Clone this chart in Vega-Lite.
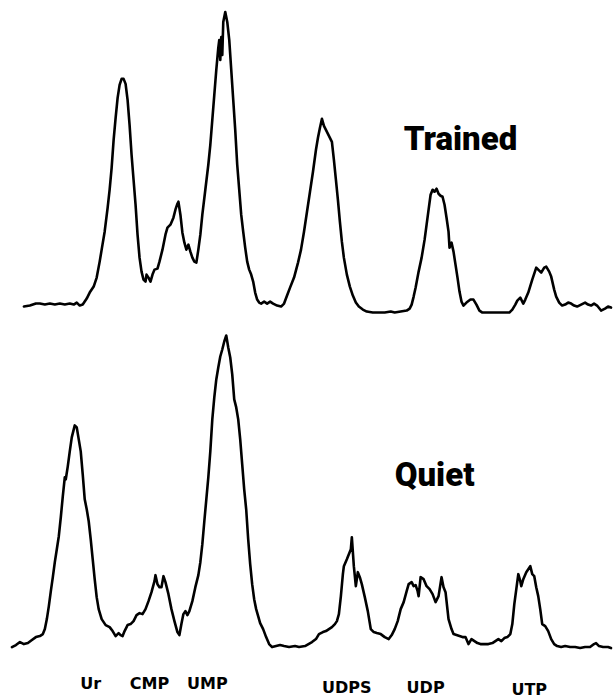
{
  "$schema": "https://vega.github.io/schema/vega-lite/v6.json",
  "width": 613,
  "height": 698,
  "autosize": {"type": "fit", "contains": "padding"},
  "padding": 0,
  "background": "white",
  "config": {"view": {"stroke": null}},
  "datasets": {
    "traces": [
      {"series":"Trained","x":24,"y":307},{"series":"Trained","x":30,"y":306},{"series":"Trained","x":36,"y":304},{"series":"Trained","x":40,"y":304},{"series":"Trained","x":45,"y":305},{"series":"Trained","x":50,"y":304},{"series":"Trained","x":55,"y":305},{"series":"Trained","x":60,"y":304},{"series":"Trained","x":65,"y":305},{"series":"Trained","x":70,"y":304},{"series":"Trained","x":74,"y":305},{"series":"Trained","x":77,"y":303},{"series":"Trained","x":80,"y":306},{"series":"Trained","x":83,"y":305},{"series":"Trained","x":87,"y":299},{"series":"Trained","x":90,"y":293},{"series":"Trained","x":94,"y":287},{"series":"Trained","x":97,"y":278},{"series":"Trained","x":100,"y":262},{"series":"Trained","x":102,"y":250},{"series":"Trained","x":105,"y":232},{"series":"Trained","x":108,"y":208},{"series":"Trained","x":110,"y":190},{"series":"Trained","x":112,"y":168},{"series":"Trained","x":114,"y":140},{"series":"Trained","x":116,"y":118},{"series":"Trained","x":118,"y":98},{"series":"Trained","x":120,"y":85},{"series":"Trained","x":122,"y":79},{"series":"Trained","x":124,"y":79},{"series":"Trained","x":126,"y":84},{"series":"Trained","x":128,"y":100},{"series":"Trained","x":130,"y":125},{"series":"Trained","x":132,"y":155},{"series":"Trained","x":134,"y":180},{"series":"Trained","x":136,"y":205},{"series":"Trained","x":138,"y":235},{"series":"Trained","x":140,"y":258},{"series":"Trained","x":142,"y":272},{"series":"Trained","x":144,"y":280},{"series":"Trained","x":146,"y":282},{"series":"Trained","x":147,"y":275},{"series":"Trained","x":149,"y":278},{"series":"Trained","x":151,"y":282},{"series":"Trained","x":153,"y":275},{"series":"Trained","x":155,"y":270},{"series":"Trained","x":158,"y":269},{"series":"Trained","x":160,"y":262},{"series":"Trained","x":163,"y":250},{"series":"Trained","x":166,"y":235},{"series":"Trained","x":168,"y":228},{"series":"Trained","x":171,"y":225},{"series":"Trained","x":174,"y":218},{"series":"Trained","x":176,"y":210},{"series":"Trained","x":178,"y":204},{"series":"Trained","x":179,"y":202},{"series":"Trained","x":181,"y":215},{"series":"Trained","x":183,"y":233},{"series":"Trained","x":185,"y":243},{"series":"Trained","x":187,"y":250},{"series":"Trained","x":189,"y":245},{"series":"Trained","x":191,"y":252},{"series":"Trained","x":193,"y":258},{"series":"Trained","x":195,"y":262},{"series":"Trained","x":197,"y":263},{"series":"Trained","x":199,"y":250},{"series":"Trained","x":201,"y":235},{"series":"Trained","x":203,"y":215},{"series":"Trained","x":206,"y":190},{"series":"Trained","x":209,"y":165},{"series":"Trained","x":211,"y":145},{"series":"Trained","x":213,"y":120},{"series":"Trained","x":215,"y":95},{"series":"Trained","x":217,"y":70},{"series":"Trained","x":219,"y":48},{"series":"Trained","x":220,"y":40},{"series":"Trained","x":221,"y":60},{"series":"Trained","x":222,"y":37},{"series":"Trained","x":223,"y":55},{"series":"Trained","x":224,"y":22},{"series":"Trained","x":226,"y":12},{"series":"Trained","x":228,"y":22},{"series":"Trained","x":230,"y":40},{"series":"Trained","x":232,"y":70},{"series":"Trained","x":234,"y":100},{"series":"Trained","x":236,"y":130},{"series":"Trained","x":238,"y":165},{"series":"Trained","x":240,"y":190},{"series":"Trained","x":242,"y":215},{"series":"Trained","x":244,"y":232},{"series":"Trained","x":246,"y":248},{"series":"Trained","x":248,"y":262},{"series":"Trained","x":250,"y":270},{"series":"Trained","x":252,"y":275},{"series":"Trained","x":254,"y":282},{"series":"Trained","x":256,"y":293},{"series":"Trained","x":258,"y":300},{"series":"Trained","x":260,"y":303},{"series":"Trained","x":262,"y":304},{"series":"Trained","x":265,"y":302},{"series":"Trained","x":268,"y":304},{"series":"Trained","x":271,"y":302},{"series":"Trained","x":274,"y":304},{"series":"Trained","x":278,"y":306},{"series":"Trained","x":282,"y":307},{"series":"Trained","x":285,"y":304},{"series":"Trained","x":288,"y":296},{"series":"Trained","x":291,"y":288},{"series":"Trained","x":295,"y":278},{"series":"Trained","x":299,"y":263},{"series":"Trained","x":302,"y":250},{"series":"Trained","x":305,"y":232},{"series":"Trained","x":308,"y":212},{"series":"Trained","x":311,"y":192},{"series":"Trained","x":314,"y":172},{"series":"Trained","x":317,"y":150},{"series":"Trained","x":319,"y":138},{"series":"Trained","x":321,"y":128},{"series":"Trained","x":323,"y":119},{"series":"Trained","x":325,"y":126},{"series":"Trained","x":327,"y":130},{"series":"Trained","x":329,"y":134},{"series":"Trained","x":331,"y":138},{"series":"Trained","x":333,"y":142},{"series":"Trained","x":335,"y":160},{"series":"Trained","x":337,"y":180},{"series":"Trained","x":339,"y":200},{"series":"Trained","x":341,"y":222},{"series":"Trained","x":343,"y":242},{"series":"Trained","x":345,"y":258},{"series":"Trained","x":348,"y":275},{"series":"Trained","x":351,"y":287},{"series":"Trained","x":354,"y":296},{"series":"Trained","x":357,"y":303},{"series":"Trained","x":360,"y":307},{"series":"Trained","x":364,"y":310},{"series":"Trained","x":368,"y":312},{"series":"Trained","x":374,"y":313},{"series":"Trained","x":380,"y":313},{"series":"Trained","x":386,"y":313},{"series":"Trained","x":392,"y":312},{"series":"Trained","x":396,"y":313},{"series":"Trained","x":402,"y":312},{"series":"Trained","x":408,"y":311},{"series":"Trained","x":411,"y":309},{"series":"Trained","x":413,"y":305},{"series":"Trained","x":415,"y":297},{"series":"Trained","x":417,"y":288},{"series":"Trained","x":420,"y":272},{"series":"Trained","x":423,"y":258},{"series":"Trained","x":426,"y":240},{"series":"Trained","x":428,"y":225},{"series":"Trained","x":430,"y":210},{"series":"Trained","x":432,"y":195},{"series":"Trained","x":434,"y":190},{"series":"Trained","x":436,"y":192},{"series":"Trained","x":438,"y":189},{"series":"Trained","x":440,"y":194},{"series":"Trained","x":442,"y":196},{"series":"Trained","x":444,"y":197},{"series":"Trained","x":446,"y":205},{"series":"Trained","x":448,"y":218},{"series":"Trained","x":450,"y":232},{"series":"Trained","x":451,"y":248},{"series":"Trained","x":453,"y":243},{"series":"Trained","x":455,"y":252},{"series":"Trained","x":457,"y":265},{"series":"Trained","x":459,"y":278},{"series":"Trained","x":461,"y":292},{"series":"Trained","x":463,"y":302},{"series":"Trained","x":465,"y":306},{"series":"Trained","x":468,"y":303},{"series":"Trained","x":472,"y":300},{"series":"Trained","x":475,"y":300},{"series":"Trained","x":478,"y":305},{"series":"Trained","x":481,"y":311},{"series":"Trained","x":484,"y":313},{"series":"Trained","x":490,"y":313},{"series":"Trained","x":498,"y":313},{"series":"Trained","x":505,"y":313},{"series":"Trained","x":511,"y":313},{"series":"Trained","x":514,"y":310},{"series":"Trained","x":517,"y":305},{"series":"Trained","x":519,"y":301},{"series":"Trained","x":522,"y":298},{"series":"Trained","x":525,"y":304},{"series":"Trained","x":527,"y":300},{"series":"Trained","x":530,"y":293},{"series":"Trained","x":534,"y":280},{"series":"Trained","x":538,"y":268},{"series":"Trained","x":541,"y":271},{"series":"Trained","x":543,"y":273},{"series":"Trained","x":546,"y":268},{"series":"Trained","x":548,"y":267},{"series":"Trained","x":551,"y":272},{"series":"Trained","x":553,"y":277},{"series":"Trained","x":556,"y":290},{"series":"Trained","x":558,"y":297},{"series":"Trained","x":561,"y":303},{"series":"Trained","x":564,"y":306},{"series":"Trained","x":567,"y":305},{"series":"Trained","x":570,"y":303},{"series":"Trained","x":573,"y":304},{"series":"Trained","x":576,"y":306},{"series":"Trained","x":579,"y":307},{"series":"Trained","x":583,"y":305},{"series":"Trained","x":587,"y":303},{"series":"Trained","x":590,"y":305},{"series":"Trained","x":593,"y":306},{"series":"Trained","x":596,"y":304},{"series":"Trained","x":599,"y":306},{"series":"Trained","x":603,"y":311},{"series":"Trained","x":607,"y":309},{"series":"Trained","x":610,"y":307},{"series":"Trained","x":613,"y":308},
      {"series":"Quiet","x":12,"y":648},{"series":"Quiet","x":16,"y":646},{"series":"Quiet","x":20,"y":643},{"series":"Quiet","x":24,"y":645},{"series":"Quiet","x":28,"y":644},{"series":"Quiet","x":32,"y":641},{"series":"Quiet","x":36,"y":638},{"series":"Quiet","x":40,"y":637},{"series":"Quiet","x":43,"y":635},{"series":"Quiet","x":45,"y":630},{"series":"Quiet","x":47,"y":620},{"series":"Quiet","x":49,"y":607},{"series":"Quiet","x":51,"y":592},{"series":"Quiet","x":53,"y":578},{"series":"Quiet","x":55,"y":563},{"series":"Quiet","x":57,"y":550},{"series":"Quiet","x":59,"y":537},{"series":"Quiet","x":61,"y":518},{"series":"Quiet","x":63,"y":497},{"series":"Quiet","x":65,"y":478},{"series":"Quiet","x":66,"y":480},{"series":"Quiet","x":68,"y":467},{"series":"Quiet","x":70,"y":452},{"series":"Quiet","x":72,"y":438},{"series":"Quiet","x":74,"y":430},{"series":"Quiet","x":75,"y":426},{"series":"Quiet","x":77,"y":428},{"series":"Quiet","x":79,"y":440},{"series":"Quiet","x":81,"y":452},{"series":"Quiet","x":83,"y":475},{"series":"Quiet","x":85,"y":500},{"series":"Quiet","x":87,"y":510},{"series":"Quiet","x":89,"y":522},{"series":"Quiet","x":91,"y":540},{"series":"Quiet","x":93,"y":560},{"series":"Quiet","x":95,"y":580},{"series":"Quiet","x":97,"y":598},{"series":"Quiet","x":99,"y":610},{"series":"Quiet","x":102,"y":620},{"series":"Quiet","x":106,"y":626},{"series":"Quiet","x":110,"y":628},{"series":"Quiet","x":113,"y":632},{"series":"Quiet","x":116,"y":637},{"series":"Quiet","x":119,"y":634},{"series":"Quiet","x":121,"y":636},{"series":"Quiet","x":123,"y":637},{"series":"Quiet","x":125,"y":632},{"series":"Quiet","x":128,"y":626},{"series":"Quiet","x":131,"y":625},{"series":"Quiet","x":134,"y":622},{"series":"Quiet","x":137,"y":616},{"series":"Quiet","x":140,"y":614},{"series":"Quiet","x":143,"y":615},{"series":"Quiet","x":146,"y":610},{"series":"Quiet","x":149,"y":602},{"series":"Quiet","x":152,"y":593},{"series":"Quiet","x":155,"y":582},{"series":"Quiet","x":156,"y":576},{"series":"Quiet","x":158,"y":585},{"series":"Quiet","x":160,"y":588},{"series":"Quiet","x":162,"y":588},{"series":"Quiet","x":164,"y":577},{"series":"Quiet","x":166,"y":583},{"series":"Quiet","x":169,"y":595},{"series":"Quiet","x":172,"y":610},{"series":"Quiet","x":175,"y":622},{"series":"Quiet","x":178,"y":633},{"series":"Quiet","x":180,"y":636},{"series":"Quiet","x":182,"y":625},{"series":"Quiet","x":184,"y":615},{"series":"Quiet","x":186,"y":612},{"series":"Quiet","x":188,"y":616},{"series":"Quiet","x":190,"y":612},{"series":"Quiet","x":193,"y":602},{"series":"Quiet","x":196,"y":588},{"series":"Quiet","x":199,"y":576},{"series":"Quiet","x":201,"y":563},{"series":"Quiet","x":203,"y":545},{"series":"Quiet","x":205,"y":522},{"series":"Quiet","x":207,"y":500},{"series":"Quiet","x":209,"y":478},{"series":"Quiet","x":211,"y":452},{"series":"Quiet","x":213,"y":420},{"series":"Quiet","x":215,"y":398},{"series":"Quiet","x":217,"y":380},{"series":"Quiet","x":219,"y":368},{"series":"Quiet","x":221,"y":357},{"series":"Quiet","x":223,"y":350},{"series":"Quiet","x":225,"y":342},{"series":"Quiet","x":227,"y":336},{"series":"Quiet","x":229,"y":348},{"series":"Quiet","x":231,"y":358},{"series":"Quiet","x":233,"y":375},{"series":"Quiet","x":235,"y":400},{"series":"Quiet","x":237,"y":408},{"series":"Quiet","x":239,"y":420},{"series":"Quiet","x":241,"y":440},{"series":"Quiet","x":243,"y":465},{"series":"Quiet","x":245,"y":490},{"series":"Quiet","x":247,"y":510},{"series":"Quiet","x":249,"y":540},{"series":"Quiet","x":251,"y":565},{"series":"Quiet","x":253,"y":585},{"series":"Quiet","x":255,"y":600},{"series":"Quiet","x":257,"y":610},{"series":"Quiet","x":259,"y":617},{"series":"Quiet","x":261,"y":624},{"series":"Quiet","x":264,"y":630},{"series":"Quiet","x":267,"y":638},{"series":"Quiet","x":270,"y":645},{"series":"Quiet","x":273,"y":648},{"series":"Quiet","x":277,"y":647},{"series":"Quiet","x":281,"y":646},{"series":"Quiet","x":285,"y":647},{"series":"Quiet","x":290,"y":648},{"series":"Quiet","x":296,"y":647},{"series":"Quiet","x":300,"y":648},{"series":"Quiet","x":306,"y":647},{"series":"Quiet","x":313,"y":643},{"series":"Quiet","x":317,"y":640},{"series":"Quiet","x":320,"y":635},{"series":"Quiet","x":324,"y":633},{"series":"Quiet","x":327,"y":632},{"series":"Quiet","x":330,"y":630},{"series":"Quiet","x":333,"y":628},{"series":"Quiet","x":336,"y":625},{"series":"Quiet","x":338,"y":622},{"series":"Quiet","x":340,"y":615},{"series":"Quiet","x":342,"y":597},{"series":"Quiet","x":344,"y":575},{"series":"Quiet","x":345,"y":567},{"series":"Quiet","x":348,"y":560},{"series":"Quiet","x":350,"y":555},{"series":"Quiet","x":352,"y":550},{"series":"Quiet","x":353,"y":538},{"series":"Quiet","x":355,"y":567},{"series":"Quiet","x":357,"y":587},{"series":"Quiet","x":359,"y":573},{"series":"Quiet","x":361,"y":578},{"series":"Quiet","x":363,"y":585},{"series":"Quiet","x":366,"y":598},{"series":"Quiet","x":369,"y":612},{"series":"Quiet","x":372,"y":630},{"series":"Quiet","x":375,"y":633},{"series":"Quiet","x":378,"y":634},{"series":"Quiet","x":382,"y":635},{"series":"Quiet","x":386,"y":638},{"series":"Quiet","x":390,"y":640},{"series":"Quiet","x":393,"y":636},{"series":"Quiet","x":396,"y":630},{"series":"Quiet","x":399,"y":622},{"series":"Quiet","x":402,"y":610},{"series":"Quiet","x":405,"y":603},{"series":"Quiet","x":408,"y":592},{"series":"Quiet","x":410,"y":585},{"series":"Quiet","x":413,"y":583},{"series":"Quiet","x":415,"y":587},{"series":"Quiet","x":417,"y":586},{"series":"Quiet","x":419,"y":592},{"series":"Quiet","x":420,"y":597},{"series":"Quiet","x":422,"y":578},{"series":"Quiet","x":425,"y":580},{"series":"Quiet","x":428,"y":587},{"series":"Quiet","x":431,"y":590},{"series":"Quiet","x":434,"y":595},{"series":"Quiet","x":437,"y":603},{"series":"Quiet","x":440,"y":597},{"series":"Quiet","x":443,"y":578},{"series":"Quiet","x":445,"y":588},{"series":"Quiet","x":447,"y":593},{"series":"Quiet","x":450,"y":620},{"series":"Quiet","x":453,"y":630},{"series":"Quiet","x":455,"y":635},{"series":"Quiet","x":458,"y":636},{"series":"Quiet","x":461,"y":637},{"series":"Quiet","x":464,"y":638},{"series":"Quiet","x":467,"y":638},{"series":"Quiet","x":470,"y":645},{"series":"Quiet","x":473,"y":640},{"series":"Quiet","x":476,"y":642},{"series":"Quiet","x":479,"y":644},{"series":"Quiet","x":482,"y":645},{"series":"Quiet","x":486,"y":645},{"series":"Quiet","x":490,"y":645},{"series":"Quiet","x":494,"y":644},{"series":"Quiet","x":497,"y":642},{"series":"Quiet","x":500,"y":640},{"series":"Quiet","x":503,"y":642},{"series":"Quiet","x":506,"y":639},{"series":"Quiet","x":509,"y":638},{"series":"Quiet","x":512,"y":635},{"series":"Quiet","x":514,"y":625},{"series":"Quiet","x":516,"y":605},{"series":"Quiet","x":518,"y":590},{"series":"Quiet","x":520,"y":575},{"series":"Quiet","x":522,"y":582},{"series":"Quiet","x":523,"y":587},{"series":"Quiet","x":525,"y":580},{"series":"Quiet","x":528,"y":573},{"series":"Quiet","x":530,"y":570},{"series":"Quiet","x":532,"y":567},{"series":"Quiet","x":534,"y":575},{"series":"Quiet","x":536,"y":577},{"series":"Quiet","x":538,"y":588},{"series":"Quiet","x":540,"y":597},{"series":"Quiet","x":542,"y":610},{"series":"Quiet","x":544,"y":625},{"series":"Quiet","x":547,"y":627},{"series":"Quiet","x":550,"y":632},{"series":"Quiet","x":553,"y":640},{"series":"Quiet","x":556,"y":645},{"series":"Quiet","x":559,"y":647},{"series":"Quiet","x":563,"y":648},{"series":"Quiet","x":567,"y":647},{"series":"Quiet","x":572,"y":648},{"series":"Quiet","x":577,"y":648},{"series":"Quiet","x":582,"y":649},{"series":"Quiet","x":587,"y":648},{"series":"Quiet","x":592,"y":648},{"series":"Quiet","x":596,"y":645},{"series":"Quiet","x":598,"y":644},{"series":"Quiet","x":601,"y":647},{"series":"Quiet","x":605,"y":648},{"series":"Quiet","x":610,"y":648},{"series":"Quiet","x":613,"y":649}
    ],
    "titles": [
      {"label": "Trained", "x": 462, "y": 150},
      {"label": "Quiet", "x": 436, "y": 487}
    ],
    "peaks": [
      {"label": "Ur", "x": 91, "y": 690},
      {"label": "CMP", "x": 150, "y": 690},
      {"label": "UMP", "x": 208, "y": 690},
      {"label": "UDPS", "x": 348, "y": 694},
      {"label": "UDP", "x": 427, "y": 694},
      {"label": "UTP", "x": 531, "y": 696}
    ]
  },
  "layer": [
    {
      "data": {"name": "traces"},
      "mark": {"type": "line", "color": "black", "strokeWidth": 2.6, "strokeJoin": "round", "strokeCap": "round"},
      "encoding": {
        "x": {"field": "x", "type": "quantitative", "scale": {"domain": [0, 613], "nice": false, "zero": false}, "axis": null},
        "y": {"field": "y", "type": "quantitative", "scale": {"domain": [0, 698], "nice": false, "zero": false, "reverse": true}, "axis": null},
        "detail": {"field": "series", "type": "nominal"}
      }
    },
    {
      "data": {"name": "titles"},
      "mark": {"type": "text", "font": "Roboto, sans-serif", "fontWeight": 900, "fontSize": 33, "align": "center", "baseline": "alphabetic", "color": "black"},
      "encoding": {
        "x": {"field": "x", "type": "quantitative"},
        "y": {"field": "y", "type": "quantitative"},
        "text": {"field": "label", "type": "nominal"}
      }
    },
    {
      "data": {"name": "peaks"},
      "mark": {"type": "text", "font": "DejaVu Sans, sans-serif", "fontWeight": "bold", "fontSize": 16, "align": "center", "baseline": "alphabetic", "color": "black"},
      "encoding": {
        "x": {"field": "x", "type": "quantitative"},
        "y": {"field": "y", "type": "quantitative"},
        "text": {"field": "label", "type": "nominal"}
      }
    }
  ]
}
